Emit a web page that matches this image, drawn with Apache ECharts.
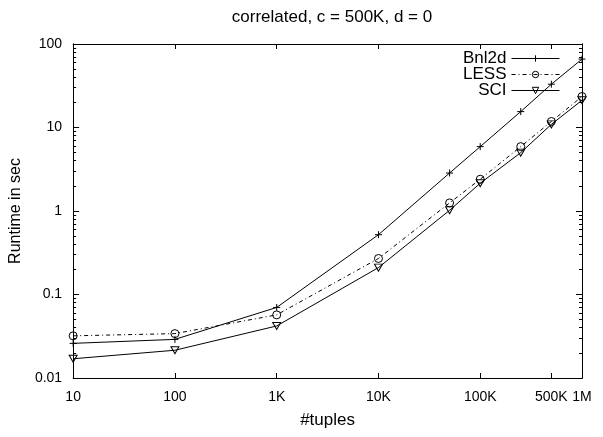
<!DOCTYPE html>
<html>
<head>
<meta charset="utf-8">
<script src="https://cdn.jsdelivr.net/npm/echarts@6/dist/echarts.min.js"></script>
<style>html,body{margin:0;padding:0;background:#fff}#c{width:603px;height:437px}</style>
</head>
<body>
<div id="c"></div>
<script>
var tuples = [10, 100, 1000, 10000, 50000, 100000, 250000, 500000, 1000000];
var bnl2d = [0.026, 0.029, 0.070, 0.52, 2.85, 5.9, 15.5, 33, 66];
var less = [0.032, 0.034, 0.057, 0.27, 1.25, 2.4, 5.9, 11.8, 23.5];
var sci = [0.017, 0.0215, 0.042, 0.21, 1.02, 2.15, 5.0, 10.9, 21.2];
var xTickValues = [10, 100, 1000, 10000, 100000, 500000, 1000000];
var xTickLabels = ['10', '100', '1K', '10K', '100K', '500K', '1M'];
var yTickValues = [0.01, 0.1, 1, 10, 100];
var yTickLabels = ['0.01', '0.1', '1', '10', '100'];

var yMinor = [];
[0.01, 0.1, 1, 10].forEach(function (d) {
  for (var k = 2; k <= 9; k++) yMinor.push(+(d * k).toPrecision(3));
});

function pairs(ys) { return tuples.map(function (x, i) { return [x, ys[i]]; }); }

var FONT = "'Liberation Sans', Arial, sans-serif";
var axisLineStyle = { show: true, lineStyle: { color: '#000', width: 1 } };

function xAxis(pos, labels) {
  return {
    type: 'log', logBase: 10, min: 10, max: 1000000, position: pos,
    axisLine: axisLineStyle,
    axisTick: { show: true, inside: true, length: 5, customValues: xTickValues, lineStyle: { color: '#000' } },
    axisLabel: labels ? {
      show: true, customValues: xTickValues, margin: 12, color: '#000', fontSize: 14, fontFamily: FONT,
      formatter: function (v) { var i = xTickValues.indexOf(v); return i >= 0 ? xTickLabels[i] : ''; }
    } : { show: false },
    splitLine: { show: false },
    name: labels ? '#tuples' : '', nameLocation: 'middle', nameGap: 34,
    nameTextStyle: { color: '#000', fontSize: 17, fontFamily: FONT }
  };
}
function yAxis(pos, vals, len, labels) {
  return {
    type: 'log', logBase: 10, min: 0.01, max: 100, position: pos,
    axisLine: axisLineStyle,
    axisTick: { show: true, inside: true, length: len, customValues: vals, lineStyle: { color: '#000' } },
    axisLabel: labels ? {
      show: true, customValues: yTickValues, margin: 11, color: '#000', fontSize: 14, fontFamily: FONT,
      formatter: function (v) {
        for (var i = 0; i < yTickValues.length; i++) if (Math.abs(v / yTickValues[i] - 1) < 1e-6) return yTickLabels[i];
        return '';
      }
    } : { show: false },
    splitLine: { show: false },
    name: labels ? 'Runtime in sec' : '', nameLocation: 'middle', nameGap: 43,
    nameTextStyle: { color: '#000', fontSize: 16, fontFamily: FONT }
  };
}

var chart = echarts.init(document.getElementById('c'), null, { renderer: 'canvas' });
chart.setOption({
  animation: false,
  backgroundColor: '#fff',
  title: {
    text: 'correlated, c = 500K, d = 0', left: 327, top: 4, textAlign: 'center',
    textStyle: { color: '#000', fontSize: 17, fontWeight: 'normal', fontFamily: FONT }
  },
  grid: { left: 72, right: 21, top: 44, bottom: 59 },
  legend: {
    orient: 'vertical', align: 'right', right: 43, top: 50, itemWidth: 48, itemHeight: 8, itemGap: -1,
    padding: 0,
    itemStyle: { borderWidth: 1 },
    lineStyle: { width: 1 },
    textStyle: { color: '#000', fontSize: 17, fontFamily: FONT },
    data: ['Bnl2d', 'LESS', 'SCI']
  },
  xAxis: [xAxis('bottom', true), xAxis('top', false)],
  yAxis: [
    yAxis('left', yTickValues, 6, true),
    yAxis('left', yMinor, 3, false),
    yAxis('right', yTickValues, 6, false),
    yAxis('right', yMinor, 3, false)
  ],
  series: [
    {
      name: 'Bnl2d', type: 'line', data: pairs(bnl2d), xAxisIndex: 0, yAxisIndex: 0,
      symbol: 'path://M5,0L5,10M0,5L10,5', symbolSize: 7,
      itemStyle: { color: '#000', borderColor: '#000', borderWidth: 1 },
      lineStyle: { color: '#000', width: 1 }
    },
    {
      name: 'LESS', type: 'line', data: pairs(less), xAxisIndex: 0, yAxisIndex: 0,
      symbol: 'path://M10,5A5,5,0,1,1,0,5A5,5,0,1,1,10,5Z', symbolSize: 8,
      itemStyle: { color: 'rgba(0,0,0,0)', borderColor: '#000', borderWidth: 1 },
      lineStyle: { color: '#000', width: 1, type: [4, 3, 1, 3] }
    },
    {
      name: 'SCI', type: 'line', data: pairs(sci), xAxisIndex: 0, yAxisIndex: 0,
      symbol: 'path://M0,0L10,0L5,9Z', symbolSize: [8, 7],
      itemStyle: { color: 'rgba(0,0,0,0)', borderColor: '#000', borderWidth: 1 },
      lineStyle: { color: '#000', width: 1 }
    }
  ]
});
</script>
</body>
</html>
